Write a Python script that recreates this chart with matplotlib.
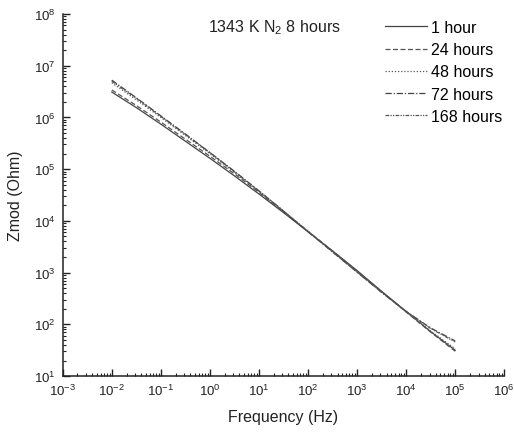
import matplotlib.pyplot as plt
import numpy as np
from matplotlib.ticker import LogLocator, LogFormatterSciNotation, NullFormatter

plt.rcParams.update({
    "font.family": ["Liberation Sans", "DejaVu Sans"],
    "mathtext.fontset": "custom",
    "mathtext.rm": "Liberation Sans",
    "mathtext.it": "Liberation Sans:italic",
    "mathtext.bf": "Liberation Sans:bold",
    "font.size": 11,
})

# frequency points, half-decade steps from 10 mHz to 100 kHz
log_freq = [-2.0, -1.5, -1.0, -0.5, 0.0, 0.5, 1.0, 1.5, 2.0, 2.5, 3.0, 3.5, 4.0, 4.5, 5.0]

# log10 |Z| for each anneal time
logz_1h = [6.49, 6.19, 5.87, 5.54, 5.21, 4.87, 4.52, 4.16, 3.79, 3.42, 3.04, 2.64, 2.25, 1.86, 1.50]
logz_24h = [6.53, 6.23, 5.91, 5.58, 5.25, 4.91, 4.55, 4.18, 3.80, 3.42, 3.03, 2.63, 2.24, 1.85, 1.48]
logz_48h = [6.67, 6.34, 6.00, 5.65, 5.30, 4.94, 4.57, 4.19, 3.79, 3.41, 3.02, 2.63, 2.24, 1.87, 1.53]
logz_72h = [6.72, 6.38, 6.03, 5.68, 5.32, 4.96, 4.58, 4.19, 3.79, 3.40, 3.01, 2.62, 2.25, 1.93, 1.68]
logz_168h = [6.70, 6.37, 6.02, 5.67, 5.32, 4.95, 4.58, 4.19, 3.80, 3.40, 3.01, 2.62, 2.25, 1.92, 1.66]

labels = ["1 hour", "24 hours", "48 hours", "72 hours", "168 hours"]
series = [logz_1h, logz_24h, logz_48h, logz_72h, logz_168h]
styles = ["-", (0, (4, 2)), (0, (1, 1.5)), (0, (5, 1.5, 1, 1.5)), (0, (3, 1, 1, 1, 1, 1))]
colors = ["#444444", "#555555", "#555555", "#444444", "#555555"]

fig = plt.figure(figsize=(5.14, 4.39), dpi=100)
ax = fig.add_axes([0.122, 0.141, 0.859, 0.825])

freq = 10.0 ** np.array(log_freq)
for lab, lz, ls, c in zip(labels, series, styles, colors):
    ax.plot(freq, 10.0 ** np.array(lz), linestyle=ls, color=c, linewidth=0.9, label=lab)

ax.set_xscale("log")
ax.set_yscale("log")
ax.set_xlim(1e-3, 1e6)
ax.set_ylim(1e1, 1e8)

for axis in (ax.xaxis, ax.yaxis):
    axis.set_major_locator(LogLocator(base=10, numticks=20))
    axis.set_minor_locator(LogLocator(base=10, subs=np.arange(2, 10), numticks=20))
    axis.set_major_formatter(LogFormatterSciNotation())
    axis.set_minor_formatter(NullFormatter())

ax.spines["top"].set_visible(False)
ax.spines["right"].set_visible(False)
for s in ("left", "bottom"):
    ax.spines[s].set_linewidth(1.1)
    ax.spines[s].set_color("#222222")
ax.tick_params(which="major", direction="in", length=5, width=1.0, labelsize=9.5,
               colors="#222222", pad=5)
ax.tick_params(which="minor", direction="in", length=2.5, width=0.8, colors="#222222")

ax.set_xlabel("Frequency (Hz)", fontsize=11.5, color="#222222", labelpad=8)
ax.set_ylabel("Zmod (Ohm)", fontsize=11.5, color="#222222", labelpad=8)

fig.text(0.405, 0.936, "1343 K N$_2$ 8 hours", fontsize=11.5, color="#222222",
         ha="left", va="center")

ax.legend(loc="upper left", bbox_to_anchor=(385 / 514, 1 - 21 / 439),
          bbox_transform=fig.transFigure, frameon=False, fontsize=11.5,
          handlelength=2.6, handletextpad=0.25, labelspacing=0.45,
          borderaxespad=0, borderpad=0)

fig.savefig("out.png", dpi=100)
